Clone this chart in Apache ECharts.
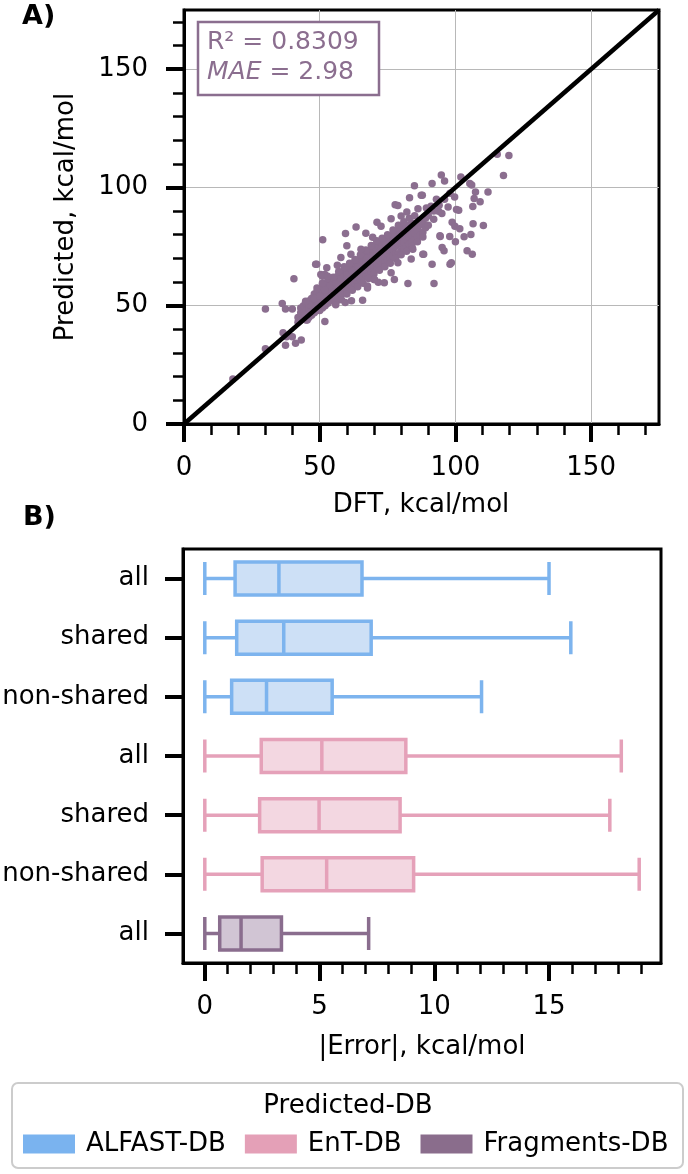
<!DOCTYPE html>
<html>
<head>
<meta charset="utf-8">
<script src="https://cdn.jsdelivr.net/npm/echarts@6.0.0/dist/echarts.min.js"></script>
<style>
html, body { margin: 0; padding: 0; background: #fff; }
#chart { width: 688px; height: 1174px; }
</style>
</head>
<body>
<div id="chart"></div>
<script>
// panel A: DFT vs predicted, [dft, predicted]
const scatterCore = [
  [42,43],[42,45],[43,44],[43,47],[43,49],[44,45],[44,47],[44,50],[45,44],[45,46],[45,48],[45,51],
  [46,45],[46,47],[46,49],[46,52],[47,46],[47,48],[47,50],[47,53],[48,47],[48,49],[48,51],[48,54],[48,55],
  [49,48],[49,50],[49,52],[49,54],[49,56],[50,48],[50,50],[50,51],[50,53],[50,55],[50,57],
  [51,49],[51,51],[51,52],[51,54],[51,56],[51,58],[52,50],[52,52],[52,53],[52,55],[52,57],[52,59],
  [53,51],[53,53],[53,54],[53,56],[53,58],[53,60],[54,52],[54,54],[54,55],[54,57],[54,59],[54,61],
  [55,53],[55,55],[55,56],[55,58],[55,60],[56,53],[56,55],[56,57],[56,58],[56,60],[56,62],
  [57,54],[57,56],[57,58],[57,59],[57,61],[57,63],[58,55],[58,57],[58,59],[58,60],[58,62],[58,64],
  [59,56],[59,58],[59,59],[59,61],[59,63],[59,65],[60,57],[60,59],[60,60],[60,62],[60,64],[60,66],
  [61,57],[61,59],[61,61],[61,62],[61,64],[61,66],[62,58],[62,60],[62,62],[62,63],[62,65],[62,67],
  [63,59],[63,61],[63,63],[63,64],[63,66],[63,68],[64,60],[64,62],[64,64],[64,65],[64,67],[64,69],
  [65,61],[65,63],[65,65],[65,66],[65,68],[65,70],[66,62],[66,64],[66,66],[66,67],[66,69],[66,71],
  [67,63],[67,65],[67,67],[67,68],[67,70],[67,72],[68,63],[68,66],[68,68],[68,69],[68,71],[68,73],
  [69,64],[69,67],[69,69],[69,70],[69,72],[69,74],[70,65],[70,67],[70,69],[70,71],[70,73],[70,75],
  [71,66],[71,68],[71,70],[71,72],[71,74],[71,76],[72,67],[72,69],[72,71],[72,73],[72,75],[72,77],
  [73,68],[73,70],[73,72],[73,74],[73,76],[74,68],[74,71],[74,73],[74,75],[74,77],
  [75,69],[75,72],[75,74],[75,76],[75,78],[76,70],[76,73],[76,75],[76,77],[76,79],
  [77,71],[77,74],[77,76],[77,78],[77,80],[78,72],[78,75],[78,77],[78,79],[78,81],
  [79,72],[79,76],[79,78],[79,80],[79,82],[80,73],[80,76],[80,79],[80,81],[80,83],
  [81,74],[81,77],[81,80],[81,82],[82,75],[82,78],[82,81],[82,83],[83,76],[83,79],[83,82],[83,84],
  [84,77],[84,80],[84,83],[84,85],[85,78],[85,81],[85,84],[86,79],[86,82],[86,85],
  [87,80],[87,84],[88,81],[88,85],[89,83],[89,87],[90,84],[90,88],
  [44.5,46],[47.5,49],[49.5,51],[52.5,54],[54.5,56],[57.5,60],[59.5,61],[62.5,65],[64.5,66],
  [67.5,70],[69.5,71],[72.5,74],[74.5,76],[77.5,79],[79.5,80],[84.5,84],
  [46,50.5],[48,53],[50,54],[52,56.5],[54,58.5],[56,59.5],[58,61.5],[60,63],[62,64.5],[64,66.5],
  [49,57.5],[51,59.5],[53,61.5],[55,62],[57,64.5],[59,66.5],[61,68],[63,69.5],[65,71.5],[67,73.5],
  [69,75.5],[71,77.5],[73,78.5],[75,80],[77,82],[79,84],[81,85.5],[83,87],[85,88],
  [56,51.5],[58,52.5],[60,55],[62,56.5],[64,58],[66,59.5],[68,61.5],[70,63.5],[72,65],[74,66.5],
  [76,68],[78,70],[80,71.5],[82,73],[84,75],[86,77],[88,79]
];
const scatterSpread = [
  [18,19],[30,31.8],[30,48.6],[36.2,50.9],[37.4,48.6],[39.9,48.6],[36.5,38.6],[37.8,36.9],
  [39.9,36.9],[41.1,34.1],[43.2,35.5],[37.4,33.3],[40.5,61.4],[44.8,51.9],[45.4,44],[46.7,46.9],
  [51.9,43.3],[48.5,67.5],[50.4,63.2],[51.9,63.2],[51,62.5],[52.9,62.5],[48.9,67.5],[52.6,66.1],
  [51.1,77.9],[59.5,80.5],[60,75.3],[63.4,83.3],[67,80.6],[71.1,85.3],[77.8,92.7],[78.8,92.4],
  [83.1,95.6],[84.9,100.7],[87.8,96.7],[86.2,91],[87.4,96.7],[91.4,101.7],[94.8,105.3],[96,102.7],
  [102,104.4],[105.3,101.7],[106,101],[107.4,98.1],[112,98.1],[109.1,93.9],[106.9,95.3],[106.4,91.9],
  [99.7,96],[97.3,91.7],[100.4,90.7],[101.2,90.4],[93.8,89.9],[89.3,91.3],[115.4,114],[117.7,105],
  [119.7,113.5],[98.8,85.3],[99.8,83.6],[101.6,82.5],[106.5,84.6],[110.3,83.9],[103.2,79.2],
  [105.7,80.1],[97.9,79.3],[94.4,79.3],[100,77],[95.1,74.6],[95.8,73.2],[104.3,73.2],[106.2,71.8],
  [88.3,71.8],[98.5,68.2],[98,67.5],[91.4,67.5],[83.7,69.7],[88,71.8],[82.5,59.4],[92.1,59.4],
  [77.5,61.1],[73.8,59.7],[94.3,79.6],[55.9,52.6],[59.4,51.4],[61.7,52.1],[65.8,52.3],[67.6,57.5],
  [70.1,61.1],[71.6,59.9],[55.9,50.4],[56.5,67.1],[57.8,70.4],[61.5,71.8],[65.2,73.9],[69.5,78.9],
  [72.6,83.6],[76.3,86.8],[80,87.9],[82.1,89.6],[84.3,73.9],[78.8,68.2],[76.3,63.9],[70.1,61.1],
  [67.6,58.3],[91,92],[92,90],[93,95],[94,92.5],[96,95],[98,97.5],[95,89],[92,86.5]
];
const parityLine = [0, 175];
const axisTicksA = [0, 50, 100, 150];

// panel B: |error| box statistics [min, Q1, median, Q3, max]
const rowLabels = ['all', 'shared', 'non-shared', 'all', 'shared', 'non-shared', 'all'];
const rowGroups = ['ALFAST-DB', 'ALFAST-DB', 'ALFAST-DB', 'EnT-DB', 'EnT-DB', 'EnT-DB', 'Fragments-DB'];
const boxStats = [
  [0, 1.32, 3.23, 6.85, 15.0],
  [0, 1.39, 3.44, 7.25, 15.95],
  [0, 1.17, 2.69, 5.55, 12.06],
  [0, 2.46, 5.10, 8.76, 18.15],
  [0, 2.39, 4.98, 8.51, 17.65],
  [0, 2.50, 5.31, 9.10, 18.93],
  [0, 0.65, 1.58, 3.34, 7.14]
];
const axisTicksB = [0, 5, 10, 15];
const groupNames = ['ALFAST-DB', 'EnT-DB', 'Fragments-DB'];

const groupEdge = { 'ALFAST-DB': '#7db4ee', 'EnT-DB': '#e5a1b9', 'Fragments-DB': '#8a6d8e' };
const groupFill = { 'ALFAST-DB': '#cde0f6', 'EnT-DB': '#f3d7e1', 'Fragments-DB': '#d1c5d4' };
const groupSwatch = { 'ALFAST-DB': '#7ab3ef', 'EnT-DB': '#e4a0b7', 'Fragments-DB': '#8a6d8c' };
const purple = '#8b6e8f';
const FONT = 'DejaVu Sans';
const FS = 26;

const chart = echarts.init(document.getElementById('chart'));

const tickStyle = { show: true, inside: false, length: 18, lineStyle: { color: '#000', width: 4 } };
const minorStyle = { show: true, splitNumber: 5, length: 11, lineStyle: { color: '#000', width: 2.5 } };
const labelStyle = { fontFamily: FONT, fontSize: FS, color: '#000' };
const frameLine = { show: true, onZero: false, lineStyle: { color: '#000', width: 3 } };

const option = {
  animation: false,
  grid: [
    { left: 184, top: 10, width: 475, height: 414, show: true, borderColor: '#000', borderWidth: 3, outerBoundsMode: 'none' },
    { left: 183, top: 549, width: 478, height: 414, show: true, borderColor: '#000', borderWidth: 3, outerBoundsMode: 'none' }
  ],
  xAxis: [
    {
      gridIndex: 0, type: 'value', min: 0, max: 175, interval: 50,
      axisLine: frameLine,
      axisTick: Object.assign({ customValues: axisTicksA }, tickStyle),
      minorTick: minorStyle,
      axisLabel: Object.assign({ customValues: axisTicksA, margin: 31 }, labelStyle),
      splitLine: { show: true, lineStyle: { color: '#b8b8b8', width: 1 } }
    },
    {
      gridIndex: 1, type: 'value', min: -0.95, max: 19.88,
      axisLine: frameLine,
      axisTick: Object.assign({ customValues: axisTicksB }, tickStyle),
      minorTick: minorStyle,
      axisLabel: Object.assign({ customValues: axisTicksB, margin: 31 }, labelStyle),
      splitLine: { show: false }
    }
  ],
  yAxis: [
    {
      gridIndex: 0, type: 'value', min: 0, max: 175, interval: 50,
      axisLine: frameLine,
      axisTick: Object.assign({ customValues: axisTicksA }, tickStyle),
      minorTick: minorStyle,
      axisLabel: Object.assign({ customValues: axisTicksA, margin: 36 }, labelStyle),
      splitLine: { show: true, lineStyle: { color: '#b8b8b8', width: 1 } }
    },
    {
      gridIndex: 1, type: 'category', inverse: true,
      data: rowLabels.map((_, i) => String(i)),
      axisLine: frameLine,
      axisTick: Object.assign({ alignWithLabel: true, interval: 0 }, tickStyle),
      axisLabel: Object.assign({ interval: 0, margin: 34, formatter: v => rowLabels[+v] }, labelStyle),
      splitLine: { show: false }
    }
  ],
  legend: {
    data: groupNames.map(n => ({ name: n, icon: 'rect', itemStyle: { color: groupSwatch[n], opacity: 1 } })),
    left: 23, top: 1131, padding: 0,
    itemWidth: 52, itemHeight: 19, itemGap: 19,
    selectedMode: false,
    textStyle: { fontFamily: FONT, fontSize: FS, color: '#000', padding: [0, 0, 0, 6] }
  },
  series: [
    {
      name: 'points', type: 'scatter', xAxisIndex: 0, yAxisIndex: 0,
      data: scatterCore.concat(scatterSpread),
      symbolSize: 7.5,
      itemStyle: { color: purple, opacity: 1 },
      z: 2
    },
    {
      name: 'parity', type: 'line', xAxisIndex: 0, yAxisIndex: 0,
      data: [[parityLine[0], parityLine[0]], [parityLine[1], parityLine[1]]],
      symbol: 'none',
      lineStyle: { color: '#000', width: 4.5 },
      z: 3
    },
    {
      name: 'boxes', type: 'boxplot', xAxisIndex: 1, yAxisIndex: 1,
      boxWidth: [33, 33],
      itemStyle: { borderWidth: 3.5 },
      data: boxStats.map((s, i) => ({
        value: s,
        itemStyle: { color: groupFill[rowGroups[i]], borderColor: groupEdge[rowGroups[i]], borderWidth: 3.5 }
      }))
    }
  ].concat(groupNames.map(n => ({
    name: n, type: 'scatter', xAxisIndex: 1, yAxisIndex: 1, data: [],
    itemStyle: { color: groupSwatch[n], opacity: 1 }
  }))),
  graphic: [
    { type: 'text', left: 22, top: 3, style: { text: 'A)', fontFamily: FONT, fontSize: 27, fontWeight: 'bold', fill: '#000' } },
    { type: 'text', left: 23, top: 504, style: { text: 'B)', fontFamily: FONT, fontSize: 27, fontWeight: 'bold', fill: '#000' } },
    {
      type: 'text', x: 66, y: 217, rotation: Math.PI / 2,
      style: { text: 'Predicted, kcal/mol', fontFamily: FONT, fontSize: FS, fill: '#000', textAlign: 'center', textVerticalAlign: 'middle' }
    },
    { type: 'text', x: 421, y: 505, style: { text: 'DFT, kcal/mol', fontFamily: FONT, fontSize: FS, fill: '#000', textAlign: 'center', textVerticalAlign: 'middle' } },
    { type: 'text', x: 422, y: 1047, style: { text: '|Error|, kcal/mol', fontFamily: FONT, fontSize: FS, fill: '#000', textAlign: 'center', textVerticalAlign: 'middle' } },
    {
      type: 'rect', z: 100,
      shape: { x: 198, y: 22, width: 181, height: 73 },
      style: { fill: '#fff', stroke: purple, lineWidth: 2.5 }
    },
    { type: 'text', z: 101, x: 207, y: 42, style: { text: 'R² = 0.8309', fontFamily: FONT, fontSize: 25, fill: purple, textVerticalAlign: 'middle' } },
    {
      type: 'text', z: 101, x: 207, y: 72,
      style: {
        text: '{i|MAE} = 2.98', fontFamily: FONT, fontSize: 25, fill: purple, textVerticalAlign: 'middle',
        rich: { i: { fontFamily: FONT, fontSize: 25, fontStyle: 'italic', fill: purple } }
      }
    },
    {
      type: 'rect', z: -1,
      shape: { x: 12, y: 1083, width: 671, height: 85, r: 6 },
      style: { fill: '#fff', stroke: '#cccccc', lineWidth: 2 }
    },
    { type: 'text', x: 348, y: 1106, style: { text: 'Predicted-DB', fontFamily: FONT, fontSize: FS, fill: '#000', textAlign: 'center', textVerticalAlign: 'middle' } }
  ]
};

chart.setOption(option);
</script>
</body>
</html>
